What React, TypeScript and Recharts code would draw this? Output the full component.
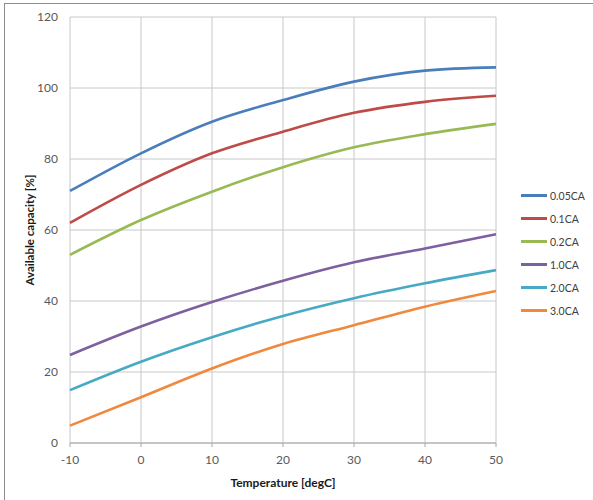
import { LineChart, Line, XAxis, YAxis, CartesianGrid, Legend, Label } from "recharts"

const temps = [-10, 0, 10, 20, 30, 40, 50]
const xTicks = [-10, 0, 10, 20, 30, 40, 50]
const yTicks = [0, 20, 40, 60, 80, 100, 120]

const seriesNames = ["0.05CA", "0.1CA", "0.2CA", "1.0CA", "2.0CA", "3.0CA"]
const colors = ["#4a7ebb", "#be4b48", "#98b954", "#7d60a0", "#46aac5", "#f0883e"]

const ca005 = [71, 81.6, 90.5, 96.6, 101.8, 104.9, 105.8]
const ca01 = [62, 72.7, 81.6, 87.7, 93, 96.1, 97.8]
const ca02 = [53, 62.8, 70.8, 77.7, 83.3, 87, 89.9]
const ca10 = [24.8, 32.8, 39.7, 45.7, 50.9, 54.8, 58.8]
const ca20 = [14.9, 22.9, 29.8, 35.8, 40.8, 45, 48.7]
const ca30 = [4.9, 12.9, 21, 27.9, 33.2, 38.4, 42.8]

const allSeries = [ca005, ca01, ca02, ca10, ca20, ca30]

const chartData = temps.map((t, i) => {
  const row: any = { t }
  seriesNames.forEach((name, s) => {
    row[name] = allSeries[s][i]
  })
  return row
})

const font = "Lato, 'Open Sans', sans-serif"

function LegendBox({ payload }: any) {
  return (
    <div style={{ fontFamily: font, fontSize: 10.5, color: "#404040" }}>
      {(payload || []).map((p: any) => (
        <div key={p.value} style={{ display: "flex", alignItems: "center", height: 23 }}>
          <div style={{ width: 26, height: 3, background: p.color, marginRight: 3 }} />
          <span>{p.value}</span>
        </div>
      ))}
    </div>
  )
}

export default function App() {
  return (
    <div style={{ position: "absolute", left: 0, top: 0, width: 593, height: 500, background: "#fff" }}>
      <div
        style={{
          position: "absolute",
          left: 4,
          top: 3,
          right: 0,
          bottom: 0,
          borderLeft: "1px solid #8c8c8c",
          borderTop: "1px solid #8c8c8c",
        }}
      />
      <div style={{ position: "absolute", left: 0, top: 0 }}>
        <LineChart width={593} height={500} data={chartData} margin={{ top: 17, right: 97, bottom: 0, left: 0 }}>
          <CartesianGrid stroke="#c8c8c8" strokeWidth={1} />
          <XAxis
            dataKey="t"
            type="number"
            domain={[-10, 50]}
            ticks={xTicks}
            height={57}
            stroke="#a6a6a6"
            tickSize={4}
            tickMargin={8}
            tick={{ fill: "#595959", fontSize: 12, fontFamily: font }}
          >
            <Label
              value="Temperature [degC]"
              position="insideBottom"
              offset={13}
              style={{ fontFamily: font, fontSize: 12, fontWeight: 700, fill: "#1a1a1a" }}
            />
          </XAxis>
          <YAxis
            type="number"
            domain={[0, 120]}
            ticks={yTicks}
            width={70}
            axisLine={false}
            tickLine={false}
            tickSize={0}
            tickMargin={12}
            tick={{ fill: "#595959", fontSize: 12, fontFamily: font }}
          >
            <Label
              value="Available capacity [%]"
              angle={-90}
              position="insideLeft"
              offset={30}
              style={{ fontFamily: font, fontSize: 11.5, fontWeight: 700, fill: "#1a1a1a", textAnchor: "middle" }}
            />
          </YAxis>
          <Legend
            layout="vertical"
            align="center"
            verticalAlign="middle"
            content={<LegendBox />}
            wrapperStyle={{ position: "absolute", left: 521, top: 184, width: 70 }}
          />
          {seriesNames.map((name, i) => (
            <Line
              key={name}
              type="monotone"
              dataKey={name}
              stroke={colors[i]}
              strokeWidth={2.6}
              dot={false}
              isAnimationActive={false}
            />
          ))}
        </LineChart>
      </div>
    </div>
  )
}
